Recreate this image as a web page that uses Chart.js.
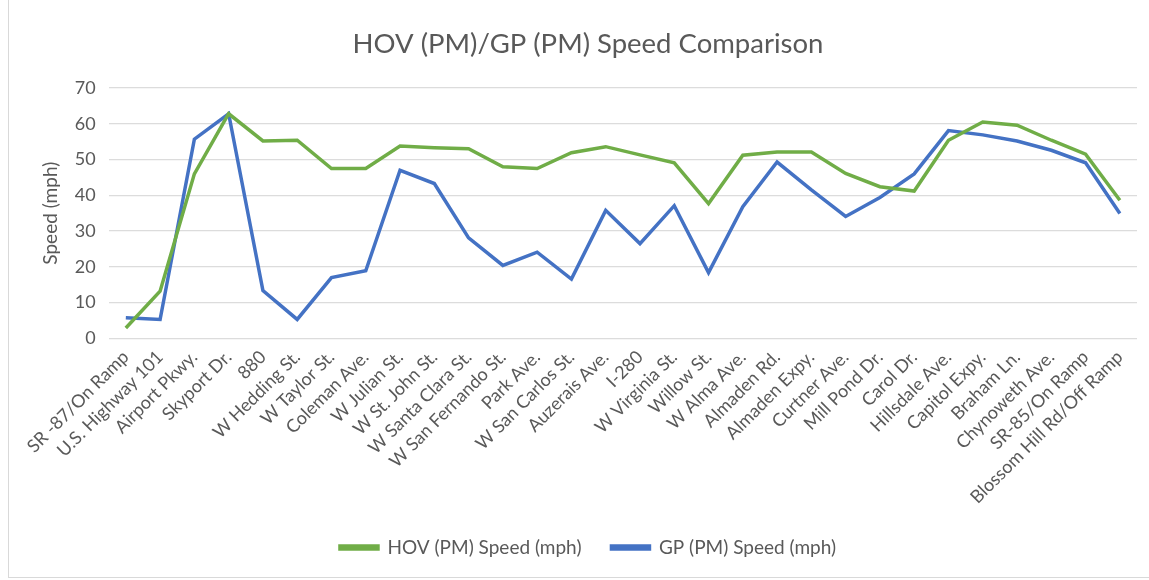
<!DOCTYPE html>
<html>
<head>
<meta charset="utf-8">
<script src="https://cdn.jsdelivr.net/npm/chart.js@4.4.1/dist/chart.umd.min.js"></script>
<style>
  body { margin: 0; background: #fff; }
  #wrap {
    position: absolute; left: 8px; top: 0; width: 1140px; height: 577px;
    border-left: 1px solid #d9d9d9; border-bottom: 1px solid #d9d9d9;
  }
</style>
</head>
<body>
<div id="wrap"><canvas id="line-chart" width="1140" height="577"></canvas></div>
<script>
const labels = [
  'SR -87/On Ramp', 'U.S. Highway 101', 'Airport Pkwy.', 'Skyport Dr.', '880',
  'W Hedding St.', 'W Taylor St.', 'Coleman Ave.', 'W Julian St.', 'W St. John St.',
  'W Santa Clara St.', 'W San Fernando St.', 'Park Ave.', 'W San Carlos St.', 'Auzerais Ave.',
  'I-280', 'W Virginia St.', 'Willow St.', 'W Alma Ave.', 'Almaden Rd.',
  'Almaden Expy.', 'Curtner Ave.', 'Mill Pond Dr.', 'Carol Dr.', 'Hillsdale Ave.',
  'Capitol Expy.', 'Braham Ln.', 'Chynoweth Ave.', 'SR-85/On Ramp', 'Blossom Hill Rd/Off Ramp',
]

const hovSpeed = [
  2.9, 13.2, 46, 62.8, 55.2, 55.4, 47.5, 47.5, 53.8, 53.3,
  53, 48, 47.5, 51.9, 53.6, 51.3, 49.1, 37.7, 51.2, 52.1,
  52.1, 46.1, 42.4, 41.2, 55.4, 60.5, 59.6, 55.4, 51.5, 38.6,
]

const gpSpeed = [
  5.8, 5.3, 55.7, 62.8, 13.4, 5.3, 17, 18.9, 47, 43.3,
  28.1, 20.4, 24.1, 16.6, 35.8, 26.5, 37.1, 18.4, 36.8, 49.3,
  41.5, 34.1, 39.4, 46, 58.1, 56.9, 55.2, 52.6, 49.1, 34.9,
]

const yTicks = [0, 10, 20, 30, 40, 50, 60, 70]

const green = '#70ad47'
const blue = '#4472c4'
const textGray = '#595959'
const fontFamily = 'Lato, "Open Sans", sans-serif'

const config = {
  type: 'line',
  data: {
    labels: labels,
    datasets: [
      {
        label: 'HOV (PM) Speed (mph)',
        data: hovSpeed,
        borderColor: green,
        backgroundColor: green,
        borderWidth: 3.5,
        pointRadius: 0,
        tension: 0,
      },
      {
        label: 'GP (PM) Speed (mph)',
        data: gpSpeed,
        borderColor: blue,
        backgroundColor: blue,
        borderWidth: 3.5,
        pointRadius: 0,
        tension: 0,
      },
    ],
  },
  options: {
    responsive: false,
    animation: false,
    layout: {
      padding: { top: 28, left: 30, right: 12, bottom: 10 },
    },
    plugins: {
      title: {
        display: true,
        text: 'HOV (PM)/GP (PM) Speed Comparison',
        color: textGray,
        font: { family: fontFamily, size: 27.5, weight: 'normal' },
        padding: { top: 0, bottom: 27 },
      },
      legend: {
        display: true,
        position: 'bottom',
        labels: {
          color: textGray,
          font: { family: fontFamily, size: 19 },
          boxWidth: 38,
          boxHeight: 3,
          padding: 30,
        },
      },
      tooltip: { enabled: false },
    },
    scales: {
      x: {
        offset: true,
        grid: { display: false },
        border: { display: false },
        ticks: {
          color: textGray,
          font: { family: fontFamily, size: 18 },
          maxRotation: 45,
          minRotation: 45,
          autoSkip: false,
          padding: 0,
        },
      },
      y: {
        min: 0,
        max: 70,
        afterBuildTicks: function (axis) {
          axis.ticks = yTicks.map(function (v) { return { value: v } })
        },
        grid: { color: '#dcdcdc', lineWidth: 1.3, drawTicks: false },
        border: { display: false },
        ticks: {
          color: textGray,
          font: { family: fontFamily, size: 18 },
          padding: 13,
        },
        title: {
          display: true,
          text: 'Speed (mph)',
          color: textGray,
          font: { family: fontFamily, size: 19 },
          padding: { top: 0, bottom: 0 },
        },
      },
    },
  },
}

const ctx = document.getElementById('line-chart').getContext('2d')
const myChart = new Chart(ctx, config)
</script>
</body>
</html>
